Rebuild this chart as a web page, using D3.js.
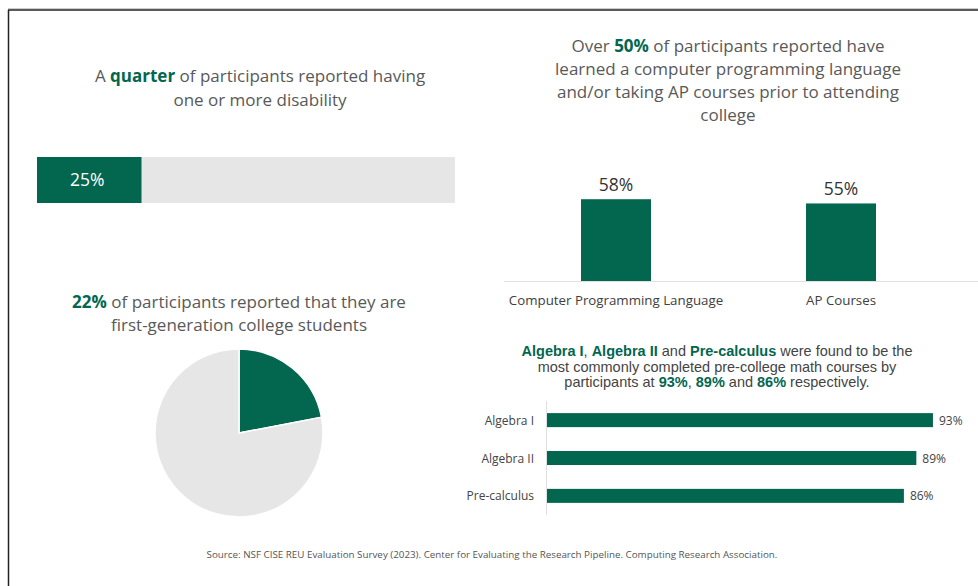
<!DOCTYPE html>
<html><head><meta charset="utf-8">
<script src="https://cdn.jsdelivr.net/npm/d3@7"></script>
<style>
html,body{margin:0;padding:0;background:#fff;}
svg{display:block;}
</style></head>
<body>
<svg id="c" width="978" height="586"></svg>
<script>
// ---- data ----
const disabilityShare = [25];              // % reporting one or more disability
const firstGenShare = [22, 78];            // first-generation vs. not
const priorCategories = ["Computer Programming Language", "AP Courses"];
const priorValues = [58, 55];
const mathCourses = ["Algebra I", "Algebra II", "Pre-calculus"];
const mathValues = [93, 89, 86];
const sourceText = "Source: NSF CISE REU Evaluation Survey (2023). Center for Evaluating the Research Pipeline. Computing Research Association.";

const GREEN = "#03664f", LIGHT = "#e6e6e6", TXT = "#595959";
const svg = d3.select("#c");
const mainFont = "'Open Sans', sans-serif";

// frame
svg.append("line").attr("x1",8).attr("x2",978).attr("y1",8.5).attr("y2",8.5).attr("stroke","#ccc").attr("stroke-width",1);
svg.append("line").attr("x1",8).attr("x2",978).attr("y1",10).attr("y2",10).attr("stroke","#222").attr("stroke-width",1.5);
svg.append("line").attr("x1",8.5).attr("x2",8.5).attr("y1",10).attr("y2",586).attr("stroke","#222").attr("stroke-width",1.5);

// helper: multi-line title with highlighted segments
function title(lines, x, y0, lh, opts) {
  const t = svg.append("text").attr("text-anchor","middle")
    .attr("font-family", opts.font).attr("font-size", opts.size).attr("fill", opts.color);
  lines.forEach((segs, i) => {
    const line = t.append("tspan").attr("x", x).attr("y", y0 + i*lh);
    segs.forEach(s => {
      line.append("tspan").text(s[0])
        .attr("font-weight", s[1] ? "bold" : null)
        .attr("fill", s[1] ? GREEN : null);
    });
  });
}

// ---- Panel 1: disability bar ----
title([[["A ",0],["quarter",1],[" of participants reported having",0]],[["one or more disability",0]]],
  260, 82, 24, {font: mainFont, size: 17, color: TXT});
const x1 = d3.scaleLinear().domain([0,100]).range([37,455]);
svg.append("rect").attr("x",x1(0)).attr("y",157).attr("width",x1(100)-x1(0)).attr("height",46).attr("fill",LIGHT);
svg.selectAll(".dbar").data(disabilityShare).join("rect").attr("class","dbar")
  .attr("x",x1(0)).attr("y",157).attr("width",d=>x1(d)-x1(0)).attr("height",46).attr("fill",GREEN);
svg.selectAll(".dlab").data(disabilityShare).join("text").attr("class","dlab")
  .attr("x",70).attr("y",186).attr("fill","#fff").attr("font-family",mainFont).attr("font-size",17.5)
  .text(d=>d+"%");

// ---- Panel 2: prior experience columns ----
title([[["Over ",0],["50%",1],[" of participants reported have",0]],
       [["learned a computer programming language",0]],
       [["and/or taking AP courses prior to attending",0]],
       [["college",0]]], 728, 52, 23, {font: mainFont, size: 17, color: TXT});
const xb = d3.scaleBand().domain(priorCategories).range([581,876]).paddingInner(0.689).paddingOuter(0);
const yb = d3.scaleLinear().domain([0,100]).range([281,140]);
svg.append("line").attr("x1",504).attr("x2",978).attr("y1",281.5).attr("y2",281.5).attr("stroke","#e0e0e0");
svg.selectAll(".pbar").data(priorValues).join("rect").attr("class","pbar")
  .attr("x",(d,i)=>xb(priorCategories[i])).attr("width",xb.bandwidth())
  .attr("y",d=>yb(d)).attr("height",d=>yb(0)-yb(d)).attr("fill",GREEN);
svg.selectAll(".plab").data(priorValues).join("text").attr("class","plab")
  .attr("x",(d,i)=>xb(priorCategories[i])+xb.bandwidth()/2).attr("y",d=>yb(d)-8)
  .attr("text-anchor","middle").attr("font-family",mainFont).attr("font-size",17.5).attr("fill","#333")
  .text(d=>d+"%");
svg.selectAll(".pcat").data(priorCategories).join("text").attr("class","pcat")
  .attr("x",d=>xb(d)+xb.bandwidth()/2).attr("y",305)
  .attr("text-anchor","middle").attr("font-family",mainFont).attr("font-size",13.3).attr("fill","#404040")
  .text(d=>d);

// ---- Panel 3: first-gen pie ----
title([[["22%",1],[" of participants reported that they are",0]],[["first-generation college students",0]]],
  239, 308, 23, {font: mainFont, size: 17, color: TXT});
const pie = d3.pie().sort(null)(firstGenShare);
const arc = d3.arc().innerRadius(0).outerRadius(84);
svg.append("g").attr("transform","translate(239,433)")
  .selectAll("path").data(pie).join("path").attr("d",arc)
  .attr("fill",(d,i)=>i===0?GREEN:LIGHT).attr("stroke","#fff").attr("stroke-width",1.5);

// ---- Panel 4: math courses ----
const arial = "'Liberation Sans', Arial, sans-serif";
title([[["Algebra I",1],[", ",0],["Algebra II",1],[" and ",0],["Pre-calculus",1],[" were found to be the",0]],
       [["most commonly completed pre-college math courses by",0]],
       [["participants at ",0],["93%",1],[", ",0],["89%",1],[" and ",0],["86%",1],[" respectively.",0]]],
  717, 356, 15.5, {font: arial, size: 14.5, color: "#444"});
const xm = d3.scaleLinear().domain([0,100]).range([547,962]);
const ym = d3.scaleBand().domain(mathCourses).range([401,515]).paddingInner(0.63).paddingOuter(0.32);
svg.append("line").attr("x1",546.5).attr("x2",546.5).attr("y1",401).attr("y2",515).attr("stroke","#e0e0e0");
svg.selectAll(".mbar").data(mathValues).join("rect").attr("class","mbar")
  .attr("x",xm(0)).attr("y",(d,i)=>ym(mathCourses[i])).attr("height",ym.bandwidth())
  .attr("width",d=>xm(d)-xm(0)).attr("fill",GREEN);
svg.selectAll(".mval").data(mathValues).join("text").attr("class","mval")
  .attr("x",d=>xm(d)+6).attr("y",(d,i)=>ym(mathCourses[i])+ym.bandwidth()/2+4.5)
  .attr("font-family",mainFont).attr("font-size",12).attr("fill","#444").text(d=>d+"%");
svg.selectAll(".mcat").data(mathCourses).join("text").attr("class","mcat")
  .attr("x",534).attr("y",d=>ym(d)+ym.bandwidth()/2+4.5).attr("text-anchor","end")
  .attr("font-family",mainFont).attr("font-size",12).attr("fill","#444").text(d=>d);

// ---- source ----
svg.append("text").attr("x",492).attr("y",558).attr("text-anchor","middle")
  .attr("font-family",mainFont).attr("font-size",9.8).attr("fill","#555").text(sourceText);
</script>
</body></html>
